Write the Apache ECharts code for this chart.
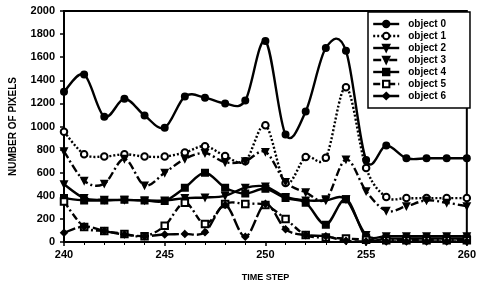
<!DOCTYPE html>
<html>
<head>
<meta charset="utf-8">
<script src="https://cdn.jsdelivr.net/npm/echarts@6/dist/echarts.min.js"></script>
<style>
  html, body { margin: 0; padding: 0; background: #fff; }
  #chart { width: 479px; height: 287px; }
</style>
</head>
<body>
<div id="chart"></div>
<script>
// time steps
var steps = [240, 241, 242, 243, 244, 245, 246, 247, 248, 249, 250, 251, 252, 253, 254, 255, 256, 257, 258, 259, 260];

// pixel counts per object
var object0 = [1300, 1450, 1085, 1240, 1095, 990, 1260, 1250, 1200, 1225, 1740, 930, 1130, 1680, 1655, 710, 835, 725, 725, 725, 725];
var object1 = [955, 760, 740, 760, 740, 740, 775, 830, 745, 700, 1010, 510, 735, 730, 1340, 640, 390, 380, 380, 380, 380];
var object2 = [500, 380, 365, 365, 360, 360, 380, 385, 400, 470, 480, 390, 360, 360, 370, 60, 50, 50, 50, 50, 50];
var object3 = [785, 530, 505, 720, 490, 600, 720, 770, 690, 700, 780, 520, 430, 370, 715, 440, 270, 310, 360, 340, 310];
var object4 = [380, 360, 360, 365, 360, 355, 470, 600, 470, 420, 460, 380, 340, 150, 370, 40, 30, 30, 30, 30, 30];
var object5 = [350, 130, 95, 70, 50, 140, 340, 155, 330, 330, 320, 200, 60, 40, 30, 20, 15, 15, 15, 15, 15];
var object6 = [80, 135, 95, 65, 50, 65, 70, 85, 320, 45, 330, 110, 60, 50, 10, 5, 5, 5, 5, 5, 5];

var names = ['object 0', 'object 1', 'object 2', 'object 3', 'object 4', 'object 5', 'object 6'];
var values = [object0, object1, object2, object3, object4, object5, object6];
var symbols = ['circle', 'emptyCircle', 'triangle', 'triangle', 'rect', 'emptyRect', 'diamond'];
var dashes = ['solid', [2, 2], 'solid', [8, 3, 2, 3], 'solid', [7, 3, 2, 3], [12, 3]];

var font = 'Liberation Sans, Arial, sans-serif';

function pairs(vals) {
  return steps.map(function (s, i) { return [s, vals[i]]; });
}

// smoothed curve (Catmull-Rom, like the old spreadsheet smoothing)
function curveSeries(idx) {
  var vals = values[idx];
  var dash = dashes[idx];
  return {
    type: 'custom',
    silent: true,
    clip: true,
    z: 1,
    data: pairs(vals),
    encode: { x: 0, y: 1 },
    renderItem: function (params, api) {
      if (params.dataIndex !== 0) return;
      var p = steps.map(function (s, i) { return api.coord([s, vals[i]]); });
      var d = 'M' + p[0][0] + ' ' + p[0][1];
      for (var i = 0; i < p.length - 1; i++) {
        var p0 = p[Math.max(i - 1, 0)], p1 = p[i], p2 = p[i + 1], p3 = p[Math.min(i + 2, p.length - 1)];
        var c1x = p1[0] + (p2[0] - p0[0]) / 6, c1y = p1[1] + (p2[1] - p0[1]) / 6;
        var c2x = p2[0] - (p3[0] - p1[0]) / 6, c2y = p2[1] - (p3[1] - p1[1]) / 6;
        d += ' C' + c1x + ' ' + c1y + ' ' + c2x + ' ' + c2y + ' ' + p2[0] + ' ' + p2[1];
      }
      return {
        type: 'path',
        shape: { pathData: d },
        style: { fill: null, stroke: '#000', lineWidth: 2.4, lineDash: dash === 'solid' ? null : dash }
      };
    }
  };
}

function markSeries(idx) {
  return {
    name: names[idx],
    type: 'line',
    z: 3,
    data: pairs(values[idx]),
    symbol: symbols[idx],
    symbolSize: 6.5,
    symbolRotate: symbols[idx] === 'triangle' ? 180 : 0,
    lineStyle: { color: '#000', width: 2.4, type: dashes[idx], opacity: 0 },
    itemStyle: { color: '#000', borderColor: '#000', borderWidth: 1.5 },
    emphasis: { disabled: true }
  };
}

var series = [];
for (var k = 0; k < names.length; k++) {
  series.push(curveSeries(k));
  series.push(markSeries(k));
}

var legendData = names.map(function (n, i) {
  return { name: n, lineStyle: { color: '#000', width: 2.4, type: dashes[i], opacity: 1 } };
});

var chart = echarts.init(document.getElementById('chart'));
chart.setOption({
  animation: false,
  backgroundColor: '#fff',
  grid: { left: 59, right: 7, top: 11, bottom: 44, show: true, borderColor: '#000', borderWidth: 2 },
  xAxis: {
    type: 'value', min: 240, max: 260, interval: 5,
    name: 'TIME STEP', nameLocation: 'middle', nameGap: 31,
    nameTextStyle: { fontFamily: font, fontWeight: 'bold', fontSize: 9, color: '#000' },
    axisLine: { lineStyle: { color: '#000', width: 2 } },
    axisTick: { show: true, length: 4, lineStyle: { color: '#000', width: 1.5 } },
    minorTick: { show: true, splitNumber: 5, length: 3, lineStyle: { color: '#000' } },
    splitLine: { show: false },
    axisLabel: { fontFamily: font, fontWeight: 'bold', fontSize: 11, color: '#000', margin: 7 }
  },
  yAxis: {
    type: 'value', min: 0, max: 2000, interval: 200,
    name: 'NUMBER OF PIXELS', nameLocation: 'middle', nameGap: 46,
    nameTextStyle: { fontFamily: font, fontWeight: 'bold', fontSize: 10, color: '#000' },
    axisLine: { show: true, lineStyle: { color: '#000', width: 2 } },
    axisTick: { show: true, length: 4, lineStyle: { color: '#000', width: 1.5 } },
    splitLine: { show: false },
    axisLabel: {
      fontFamily: font, fontWeight: 'bold', fontSize: 11, color: '#000', margin: 9,
      formatter: function (v) { return String(v); }
    }
  },
  legend: {
    orient: 'vertical', left: 368, top: 12,
    padding: [6, 24, 6, 4],
    itemWidth: 26, itemHeight: 8, itemGap: 0,
    backgroundColor: '#fff', borderColor: '#000', borderWidth: 1.5,
    textStyle: { fontFamily: font, fontWeight: 'bold', fontSize: 10, color: '#000', lineHeight: 12, padding: [0, 0, 0, 4] },
    data: legendData
  },
  series: series
});
</script>
</body>
</html>
